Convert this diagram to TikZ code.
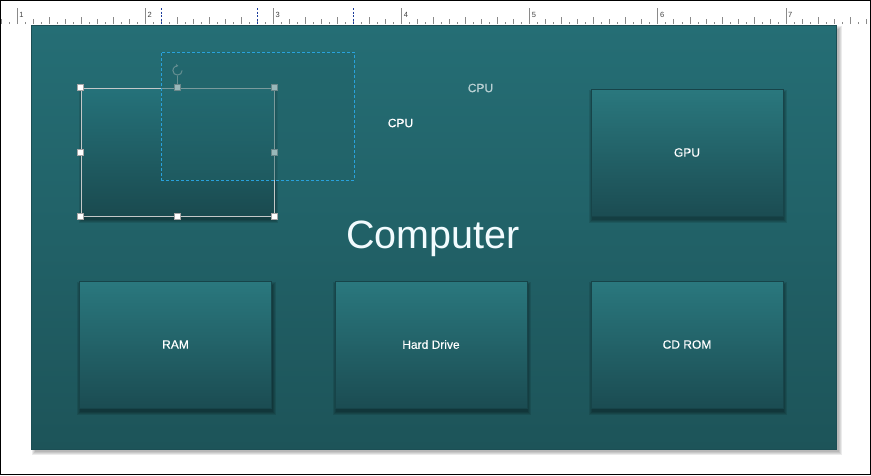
\documentclass[tikz,border=0pt]{standalone}
\usepackage{fontspec}
\setmainfont{Liberation Sans}
\newfontfamily\labelfont[FakeBold=0.35]{Liberation Sans}
\usetikzlibrary{calc,arrows.meta}
\definecolor{tickgray}{HTML}{8A8A8A}
\definecolor{numgray}{HTML}{404040}
\definecolor{markblue}{HTML}{1B3C9C}
\definecolor{boardtop}{HTML}{256E75}
\definecolor{boardmid}{HTML}{28747B}
\definecolor{boardbot}{HTML}{1D5459}
\definecolor{boardedge}{HTML}{1B4E54}
\definecolor{boxtop}{HTML}{2A787E}
\definecolor{boxbot}{HTML}{1B4C52}
\definecolor{boxedge}{HTML}{174449}
\definecolor{seltop}{HTML}{25727A}
\definecolor{selbot}{HTML}{1A4A4F}
\definecolor{seledge}{HTML}{C4C8C8}
\definecolor{ghostblue}{HTML}{29A2DC}
\definecolor{ghostfill}{HTML}{216268}
\definecolor{rotgray}{HTML}{9FB4B6}
\definecolor{cpugray}{HTML}{B8D0D2}
\pgfdeclarelayer{backlayer}
\pgfdeclarelayer{shadowlayer}
\pgfsetlayers{backlayer,shadowlayer,main}
\begin{document}
\begin{tikzpicture}[x=1pt,y=-1pt,
  tick/.style={draw=tickgray,line width=0.6pt},
  rulenum/.style={text=numgray,inner sep=0pt,font=\fontsize{7.5}{8}\selectfont},
  marker/.style={draw=markblue,line width=1pt,dash pattern=on 2pt off 1.5pt},
  board/.style={draw=boardedge,line width=0.8pt,top color=boardtop,middle color=boardmid,bottom color=boardbot,minimum width=805pt,minimum height=424pt,inner sep=0pt},
  part/.style={draw=boxedge,line width=0.8pt,top color=boxtop,bottom color=boxbot,minimum width=192pt,minimum height=127pt,inner sep=0pt,text=white,font=\labelfont\fontsize{12}{14}\selectfont},
  selbox/.style={draw=seledge,line width=0.8pt,top color=seltop,bottom color=selbot,minimum width=193pt,minimum height=128pt,inner sep=0pt},
  ghost/.style={draw=ghostblue,line width=0.8pt,dash pattern=on 3pt off 2pt,fill=ghostfill,fill opacity=0.45,minimum width=193pt,minimum height=128pt,inner sep=0pt},
  handle/.style={draw=gray!70,line width=0.4pt,fill=white,minimum size=6pt,inner sep=0pt},
  rot/.style={draw=rotgray,line width=1pt},
  lbl/.style={inner sep=0pt,text=white,font=\labelfont\fontsize{12}{14}\selectfont},
  bigtext/.style={inner sep=0pt,text=white!95!cyan,font=\fontsize{39.5}{44}\selectfont}
]
\useasboundingbox (0,0) rectangle (871,475);
\begin{pgfonlayer}{backlayer}
\fill[white] (0,0) rectangle (871,475);
\foreach \k in {0,1,2,3}{
  \fill[black,opacity=0.08] ({31+4-\k},{25+4-\k}) rectangle ({836+3+\k},{449+3+\k});
}
\node[board,anchor=north west] (boardnode) at (31,25) {};
\end{pgfonlayer}

% ruler
\foreach \i in {-2,...,107}{
  \pgfmathsetmacro{\xx}{17.3+8.006*\i}
  \pgfmathsetmacro{\hh}{ifthenelse(mod(\i,16)==0,16,ifthenelse(mod(\i,4)==0,7,ifthenelse(mod(\i,2)==0,5,2.5)))}
  \draw[tick] (\xx,24) -- (\xx,24-\hh);
}
\foreach \n in {1,...,7}{
  \node[rulenum,anchor=base west] (rn\n) at ({17.3+128.1*(\n-1)+2},17.5) {\n};
}
\coordinate (m1a) at (161.3,8); \coordinate (m1b) at (161.3,24);
\coordinate (m2a) at (257.3,8); \coordinate (m2b) at (257.3,24);
\coordinate (m3a) at (353.3,8); \coordinate (m3b) at (353.3,24);
\draw[marker] (m1a) -- (m1b);
\draw[marker] (m2a) -- (m2b);
\draw[marker] (m3a) -- (m3b);

\node[bigtext,anchor=base] (title) at (433,248.5) {Computer};

% parts
\node[part] (gpu) at (687,152.5) {GPU};
\node[part] (ram) at (175.5,344.5) {RAM};
\node[part] (hd) at (431,344.5) {Hard Drive};
\node[part] (cd) at (687,344.5) {CD ROM};
\node[selbox] (sel) at (177.5,152) {};

\begin{pgfonlayer}{shadowlayer}
\foreach \n in {gpu,ram,hd,cd,sel}{
  \foreach \k in {0,1,2,3}{
    \fill[black,opacity=0.1] ($(\n.south west)+(1-\k,4+\k)$) rectangle ($(\n.north east)+(1+\k,4-\k)$);
  }
}
\end{pgfonlayer}

% selection handles
\node[handle] (h1) at (sel.north west) {};
\node[handle] (h2) at (sel.north) {};
\node[handle] (h3) at (sel.north east) {};
\node[handle] (h4) at (sel.west) {};
\node[handle] (h5) at (sel.east) {};
\node[handle] (h6) at (sel.south west) {};
\node[handle] (h7) at (sel.south) {};
\node[handle] (h8) at (sel.south east) {};

% rotate handle
\coordinate (rc) at (177.5,70.5);
\coordinate (rb) at (177.5,76);
\draw[rot,line width=0.8pt] (rb) -- (h2.north);
\draw[rot,-{Stealth[length=2.6pt,width=3.2pt]}] ($(rc)+(4.6,0)$) arc[start angle=0,end angle=280,radius=4.6];

% ghost (dragged copy)
\node[ghost,anchor=north west] (ghostbox) at (161,52) {};

% labels
\node[lbl] (cpu1) at (400.5,123) {CPU};
\node[lbl,text=cpugray] (cpu2) at (480.5,88) {CPU};

% frame
\draw[black,line width=1pt] (0.5,0.5) rectangle (870.5,474.5);
\end{tikzpicture}
\end{document}
